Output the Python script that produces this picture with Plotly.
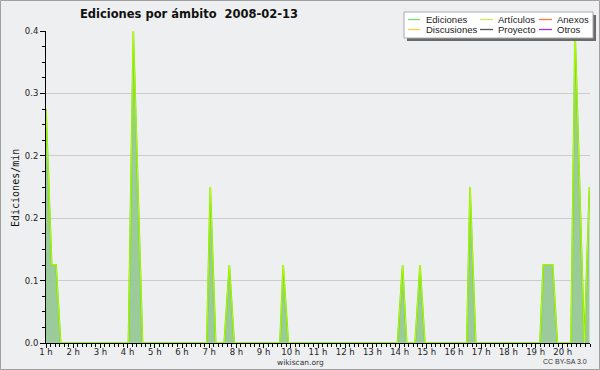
import plotly.graph_objects as go

# ---- data (hours of day, edits per minute) ----
hours = [1.00, 1.21, 1.37, 1.54,
         4.03, 4.21, 4.55,
         6.91, 7.04, 7.24,
         7.55, 7.74, 7.92,
         9.60, 9.72, 9.91,
         13.92, 14.11, 14.26,
         14.57, 14.75, 14.93,
         16.47, 16.59, 16.80,
         19.16, 19.28, 19.63, 19.80,
         20.30, 20.45, 20.79, 20.98]
ediciones = [0.30, 0.10, 0.10, 0.0,
             0.0, 0.40, 0.0,
             0.0, 0.20, 0.0,
             0.0, 0.10, 0.0,
             0.0, 0.10, 0.0,
             0.0, 0.10, 0.0,
             0.0, 0.10, 0.0,
             0.0, 0.20, 0.0,
             0.0, 0.10, 0.10, 0.0,
             0.0, 0.40, 0.0, 0.20]
articulos = list(ediciones)

hour_ticks = list(range(1, 21))
hour_labels = [f"{h} h" for h in hour_ticks]
y_ticks = [0.0, 0.08, 0.16, 0.24, 0.32, 0.40]
y_labels = ["0.0", "0.1", "0.2", "0.2", "0.3", "0.4"]

legend_names = ["Ediciones", "Artículos", "Anexos", "Discusiones", "Proyecto", "Otros"]
legend_colors = ["#7fd67f", "#ccee55", "#ff7744", "#ffcc44", "#555555", "#9933ee"]

BG = "#eeeff0"
W, H = 600, 370
L, R, T, B = 46, 10, 31, 27
PW, PH = W - L - R, H - T - B

def px(x):  # pixel x -> paper
    return (x - L) / PW

def py(y):  # pixel y -> paper
    return 1 - (y - T) / PH

fig = go.Figure()
fig.add_trace(go.Scatter(x=hours, y=ediciones, mode="lines", name="Ediciones",
                         fill="tozeroy", fillcolor="rgba(150,200,150,0.95)",
                         line=dict(color="#66dd11", width=1.6), showlegend=False))
fig.add_trace(go.Scatter(x=hours, y=articulos, mode="lines", name="Artículos",
                         line=dict(color="#ccff00", width=0.8), showlegend=False))

shapes = []
annotations = []

# outer frame
shapes.append(dict(type="rect", xref="paper", yref="paper",
                   x0=px(0.5), x1=px(599.5), y0=py(369.5), y1=py(0.5),
                   line=dict(color="#a0a0a0", width=1), layer="below"))

# legend box with shadow
lx0, lx1, ly0, ly1 = 404, 593, 12, 38
shapes.append(dict(type="rect", xref="paper", yref="paper",
                   x0=px(lx0 + 3), x1=px(lx1 + 3), y0=py(ly1 + 3), y1=py(ly0 + 3),
                   fillcolor="#6a6a6a", line=dict(width=0)))
shapes.append(dict(type="rect", xref="paper", yref="paper",
                   x0=px(lx0), x1=px(lx1), y0=py(ly1), y1=py(ly0),
                   fillcolor="white", line=dict(color="#aaaaaa", width=1)))
cols = [(408, 420, 424), (480, 493, 496), (539, 552, 555)]
rows = [19.5, 29.5]
for i, (name, col) in enumerate(zip(legend_names, legend_colors)):
    r, c = divmod(i, 3)
    x0, x1, xt = cols[c]
    yy = rows[r]
    shapes.append(dict(type="line", xref="paper", yref="paper",
                       x0=px(x0), x1=px(x1), y0=py(yy), y1=py(yy),
                       line=dict(color=col, width=1.3)))
    annotations.append(dict(text=name, xref="paper", yref="paper",
                            x=px(xt), y=py(yy), xanchor="left", yanchor="middle",
                            showarrow=False,
                            font=dict(family="Liberation Sans", size=9.5, color="#222")))

annotations.append(dict(text="wikiscan.org", xref="paper", yref="paper",
                        x=px(300), y=py(362), xanchor="center", yanchor="middle",
                        showarrow=False, font=dict(family="DejaVu Sans", size=7.5, color="#333")))
annotations.append(dict(text="CC BY-SA 3.0", xref="paper", yref="paper",
                        x=px(589), y=py(361), xanchor="right", yanchor="middle",
                        showarrow=False, font=dict(family="Liberation Sans", size=7, color="#333")))
annotations.append(dict(text="Ediciones/min", xref="paper", yref="paper",
                        x=px(15), y=py(188), xanchor="center", yanchor="middle",
                        textangle=-90, showarrow=False,
                        font=dict(family="DejaVu Sans Mono", size=10, color="#111")))

fig.update_layout(
    width=W, height=H,
    margin=dict(l=L, r=R, t=T, b=B, pad=0),
    paper_bgcolor=BG, plot_bgcolor=BG,
    title=dict(text="<b>Ediciones por ámbito  2008-02-13</b>", xref="container", yref="container",
               x=189 / W, y=1 - 14 / H, xanchor="center", yanchor="middle",
               font=dict(family="DejaVu Sans", size=11.5, color="#111")),
    shapes=shapes, annotations=annotations,
    xaxis=dict(range=[1, 21], tickvals=hour_ticks, ticktext=hour_labels,
               showgrid=False, zeroline=False, showline=True, linecolor="black", linewidth=1,
               ticks="outside", ticklen=4, tickcolor="black", tickwidth=1,
               ticklabelstandoff=-3,
               tickfont=dict(family="DejaVu Sans", size=8.5, color="#222"),
               minor=dict(dtick=1 / 6, tick0=1, ticks="outside", ticklen=3,
                          tickcolor="black", showgrid=False),
               fixedrange=True),
    yaxis=dict(range=[0, 0.4], tickvals=y_ticks, ticktext=y_labels,
               showgrid=True, gridcolor="#cccccc", gridwidth=1, zeroline=False,
               showline=True, linecolor="black", linewidth=1,
               ticks="outside", ticklen=5, tickcolor="black", tickwidth=1,
               tickfont=dict(family="DejaVu Sans", size=8.5, color="#222"),
               minor=dict(dtick=0.02, tick0=0, ticks="outside", ticklen=3,
                          tickcolor="black", showgrid=False),
               fixedrange=True),
)

fig.write_html("out.html", config={"displayModeBar": False},
               post_script="document.body.style.margin='0';document.body.style.overflow='hidden';")
